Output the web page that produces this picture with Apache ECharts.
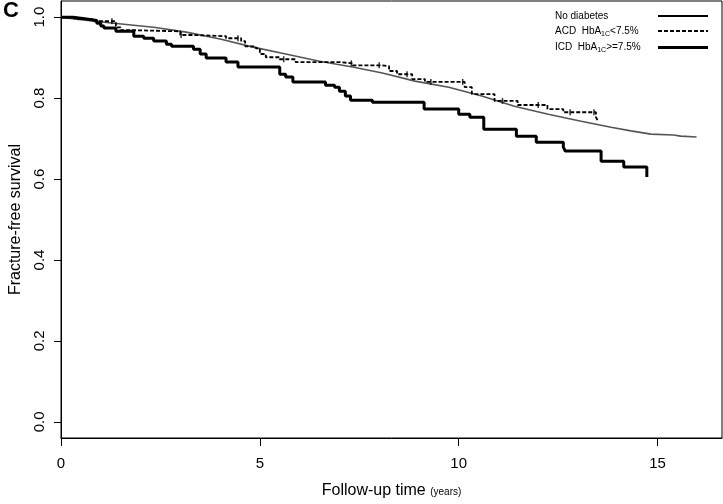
<!DOCTYPE html>
<html>
<head>
<meta charset="utf-8">
<script src="https://cdn.jsdelivr.net/npm/echarts@6/dist/echarts.min.js"></script>
<style>html,body{margin:0;padding:0;background:#fff}#c{width:723px;height:504px}</style>
</head>
<body>
<div id="c"></div>
<script>
// Fracture-free survival (Kaplan–Meier)
const seriesNames = ['No diabetes', 'ACD HbA1C<7.5%', 'ICD HbA1C>=7.5%'];

const noDiabetesTime = [0, 0.5, 1.33, 2.33, 3.15, 4.0, 4.83, 5.65, 6.5, 7.33, 8.08, 8.9, 9.75, 10.58, 11.4, 12.25, 13.08, 13.83, 14.33, 14.83, 15.4, 15.58, 15.98];
const noDiabetesSurv = [1.0, 0.994, 0.985, 0.975, 0.963, 0.946, 0.926, 0.909, 0.891, 0.877, 0.862, 0.842, 0.827, 0.805, 0.780, 0.760, 0.743, 0.728, 0.719, 0.711, 0.709, 0.706, 0.704];

const acdTime = [0, 0.35, 0.83, 1.38, 1.5, 1.75, 3.0, 3.33, 4.15, 4.53, 4.63, 4.9, 5.0, 5.15, 5.5, 5.9, 7.0, 7.33, 8.08, 8.25, 8.45, 8.83, 9.15, 10.15, 10.33, 10.9, 11.48, 12.23, 12.63, 13.45, 13.5];
const acdSurv = [1.0, 0.995, 0.99, 0.975, 0.968, 0.965, 0.956, 0.953, 0.948, 0.941, 0.928, 0.923, 0.909, 0.901, 0.896, 0.889, 0.886, 0.881, 0.879, 0.867, 0.859, 0.847, 0.840, 0.827, 0.810, 0.793, 0.783, 0.773, 0.765, 0.753, 0.743];
const acdCensorTime = [1.28, 3.02, 4.45, 5.6, 7.3, 8.0, 8.7, 9.3, 10.1, 11.1, 12.0, 12.8, 13.4];

const icdTime = [0, 0.3, 0.6, 0.9, 1.0, 1.08, 1.38, 1.83, 2.08, 2.33, 2.65, 2.78, 3.33, 3.5, 3.65, 4.15, 4.45, 5.5, 5.65, 5.83, 6.65, 6.88, 7.0, 7.15, 7.28, 7.83, 9.13, 10.0, 10.28, 10.63, 11.45, 11.95, 12.63, 12.68, 13.58, 14.15, 14.73];
const icdSurv = [1.0, 0.996, 0.992, 0.985, 0.978, 0.973, 0.965, 0.953, 0.948, 0.941, 0.933, 0.928, 0.921, 0.909, 0.899, 0.889, 0.877, 0.859, 0.852, 0.840, 0.832, 0.827, 0.817, 0.805, 0.795, 0.790, 0.773, 0.760, 0.753, 0.723, 0.706, 0.691, 0.679, 0.669, 0.644, 0.630, 0.605];

const xTicks = [0, 5, 10, 15];
const yTicks = [0, 0.2, 0.4, 0.6, 0.8, 1.0];

function pairs(t, s) { return t.map((v, i) => [v, s[i]]); }
function stepAt(t, s, x) { let v = s[0]; for (let i = 0; i < t.length; i++) { if (t[i] <= x) v = s[i]; } return v; }

const FONT = '"Liberation Sans", Arial, Helvetica, sans-serif';
const chart = echarts.init(document.getElementById('c'), null, { renderer: 'canvas' });

const legendRich = {
  a: { fontSize: 10, fontFamily: FONT, color: '#000', align: 'left' },
  s: { fontSize: 7, fontFamily: FONT, color: '#000', padding: [6, 0, 0, 0], align: 'left' }
};
const hideSym = { opacity: 0 };

chart.setOption({
  animation: false,
  backgroundColor: '#fff',
  textStyle: { fontFamily: FONT },
  grid: { left: 57, right: 1, top: 1, bottom: 64, show: true, borderColor: '#000', borderWidth: 1, backgroundColor: 'transparent' },
  graphic: [{ type: 'text', left: 3, top: 0, style: { text: 'C', font: 'bold 22px ' + FONT, fill: '#000' } }],
  legend: {
    orient: 'vertical', left: 550, top: 6, align: 'right', itemWidth: 50, itemHeight: 10, itemGap: 5,
    data: [
      { name: seriesNames[0], itemStyle: hideSym, lineStyle: { color: '#000', width: 2, type: 'solid' } },
      { name: seriesNames[1], itemStyle: hideSym, lineStyle: { color: '#000', width: 2, type: [4, 2] } },
      { name: seriesNames[2], itemStyle: hideSym, lineStyle: { color: '#000', width: 3, type: 'solid' } }
    ],
    formatter: function (n) {
      if (n === seriesNames[0]) return '{a|No diabetes}';
      if (n === seriesNames[1]) return '{a|ACD  HbA}{s|1C}{a|<7.5%}';
      return '{a|ICD  HbA}{s|1C}{a|>=7.5%}';
    },
    textStyle: { width: 98, align: 'left', rich: legendRich }
  },
  xAxis: {
    type: 'value', min: 0, max: 16.62,
    name: '{t|Follow-up time }{u|(years)}', nameLocation: 'middle', nameGap: 45,
    nameTextStyle: { rich: { t: { fontSize: 16, fontFamily: FONT, color: '#000' }, u: { fontSize: 10, fontFamily: FONT, color: '#000', padding: [3, 0, 0, 0] } } },
    axisLine: { show: true, onZero: false, lineStyle: { color: '#000', width: 1 } },
    axisTick: { show: true, inside: false, length: 8, customValues: xTicks, lineStyle: { color: '#000', width: 1 } },
    axisLabel: { customValues: xTicks, fontSize: 15, color: '#000', margin: 18, fontFamily: FONT },
    splitLine: { show: false }
  },
  yAxis: {
    type: 'value', min: -0.04, max: 1.04,
    name: 'Fracture-free survival', nameLocation: 'middle', nameGap: 37,
    nameTextStyle: { fontSize: 16, fontFamily: FONT, color: '#000' },
    axisLine: { show: true, onZero: false, lineStyle: { color: '#000', width: 1 } },
    axisTick: { show: true, inside: false, length: 7, customValues: yTicks, lineStyle: { color: '#000', width: 1 } },
    axisLabel: { customValues: yTicks, rotate: 90, fontSize: 15, color: '#000', margin: 14, fontFamily: FONT, formatter: v => v.toFixed(1) },
    splitLine: { show: false }
  },
  series: [
    { name: seriesNames[0], type: 'line', data: pairs(noDiabetesTime, noDiabetesSurv), symbol: 'none', lineStyle: { color: '#555', width: 1.6 }, itemStyle: { color: '#555' }, z: 2 },
    { name: seriesNames[1], type: 'line', step: 'end', data: pairs(acdTime, acdSurv), symbol: 'none', lineStyle: { color: '#000', width: 1.8, type: [4, 2] }, itemStyle: { color: '#000' }, z: 3 },
    { name: 'acdCensor', type: 'scatter', data: acdCensorTime.map(t => [t, stepAt(acdTime, acdSurv, t)]), symbol: 'rect', symbolSize: [1.5, 6], itemStyle: { color: '#000' }, z: 4 },
    { name: seriesNames[2], type: 'line', step: 'end', data: pairs(icdTime, icdSurv), symbol: 'none', lineStyle: { color: '#000', width: 3 }, itemStyle: { color: '#000' }, z: 3 }
  ]
});
</script>
</body>
</html>
